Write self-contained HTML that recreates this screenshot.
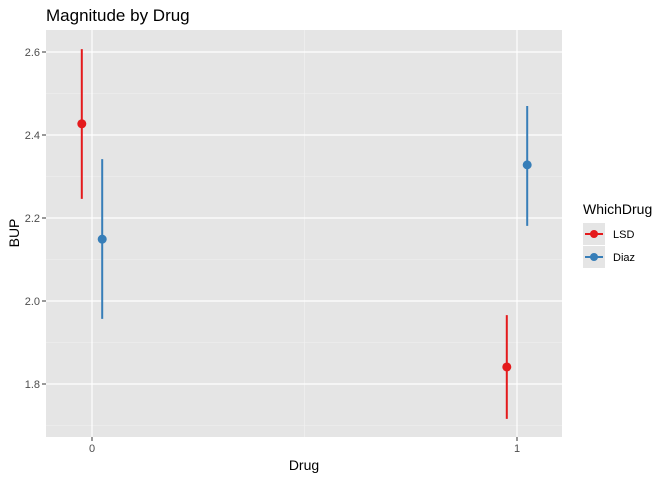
<!DOCTYPE html>
<html><head><meta charset="utf-8"><style>
body{margin:0;background:#fff;font-family:"Liberation Sans",Arial,sans-serif}
</style></head><body>
<svg id="chart" width="672" height="480" xmlns="http://www.w3.org/2000/svg">
<text x="46" y="21" font-size="17" fill="#000">Magnitude by Drug</text>
<rect x="46" y="30" width="516" height="407" fill="#e5e5e5"/>
<g id="grid"></g>
<g id="marks"></g>
<g id="axes"></g>
<text x="304" y="470" font-size="14" text-anchor="middle">Drug</text>
<text transform="translate(19,233) rotate(-90)" font-size="14" text-anchor="middle">BUP</text>
<g>
<text x="583" y="214" font-size="14">WhichDrug</text>
<rect x="583" y="223" width="22" height="22" fill="#e5e5e5"/>
<line x1="585" y1="234" x2="603" y2="234" stroke="#e41a1c" stroke-width="2"/>
<circle cx="594" cy="234" r="4" fill="#e41a1c"/>
<text x="613" y="238" font-size="11">LSD</text>
<rect x="583" y="246" width="22" height="22" fill="#e5e5e5"/>
<line x1="585" y1="257" x2="603" y2="257" stroke="#377eb8" stroke-width="2"/>
<circle cx="594" cy="257" r="4" fill="#377eb8"/>
<text x="613" y="261" font-size="11">Diaz</text>
</g>
</svg>
<script>
const categories=[0,1];
const lsdMean=[2.427,1.841];
const lsdLo=[2.246,1.716];
const lsdHi=[2.607,1.966];
const diazMean=[2.149,2.328];
const diazLo=[1.957,2.181];
const diazHi=[2.342,2.470];
const yTicks=[1.8,2.0,2.2,2.4,2.6];
const yMinor=[1.7,1.9,2.1,2.3,2.5];
const xTicks=[0,1];
const xMinor=[0.5];
const NS="http://www.w3.org/2000/svg";
const X=v=>92+v*425;
const Y=v=>52+(2.6-v)*415;
function mk(p,tag,a){const e=document.createElementNS(NS,tag);for(const k in a)e.setAttribute(k,a[k]);document.getElementById(p).appendChild(e);return e;}
yMinor.forEach(v=>{const l=mk('grid','line',{x1:46,x2:562,y1:Y(v),y2:Y(v),stroke:'#f2f2f2','stroke-width':0.6});

});
xMinor.forEach(v=>{const l=mk('grid','line',{x1:X(v),x2:X(v),y1:30,y2:437,stroke:'#f2f2f2','stroke-width':0.6});

});
yTicks.forEach(v=>{const l=mk('grid','line',{x1:46,x2:562,y1:Y(v),y2:Y(v),stroke:'#fff','stroke-width':1.2});


const t=mk('axes','text',{x:40,y:Y(v)+4,'font-size':11,fill:'#4d4d4d','text-anchor':'end'});t.textContent=v.toFixed(1);


mk('axes','line',{x1:42,x2:46,y1:Y(v),y2:Y(v),stroke:'#333'});});
xTicks.forEach(v=>{const l=mk('grid','line',{x1:X(v),x2:X(v),y1:30,y2:437,stroke:'#fff','stroke-width':1.2});


const t=mk('axes','text',{x:X(v),y:452,'font-size':11,fill:'#4d4d4d','text-anchor':'middle'});t.textContent=v;


mk('axes','line',{x1:X(v),x2:X(v),y1:437,y2:441,stroke:'#333'});});
function series(mean,lo,hi,off,col,name){categories.forEach((c,i)=>{const x=X(c+off);
const l=mk('marks','line',{x1:x,x2:x,y1:Y(lo[i]),y2:Y(hi[i]),stroke:col,'stroke-width':2});


const p=mk('marks','circle',{cx:x,cy:Y(mean[i]),r:4.5,fill:col});

});}
series(lsdMean,lsdLo,lsdHi,-0.024,'#e41a1c','lsd');
series(diazMean,diazLo,diazHi,0.024,'#377eb8','diaz');
</script>
</body></html>
